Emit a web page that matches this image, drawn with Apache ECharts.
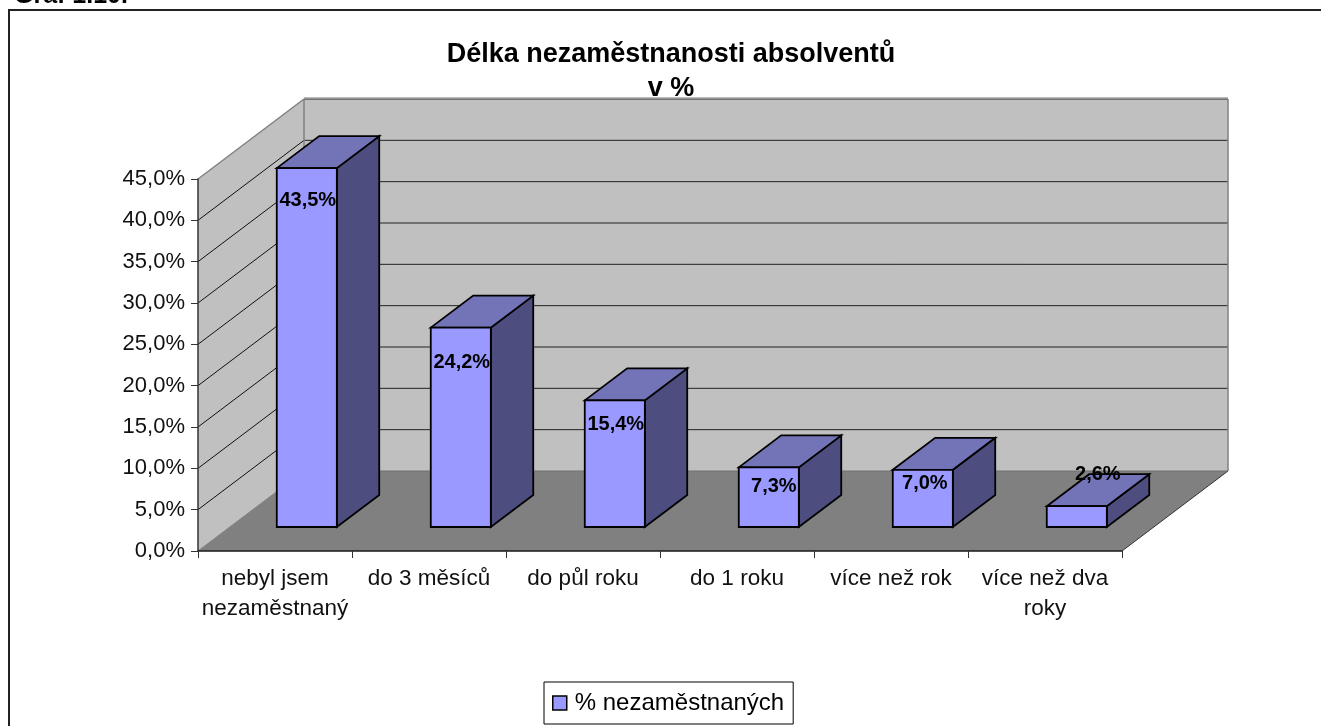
<!DOCTYPE html>
<html>
<head>
<meta charset="utf-8">
<script src="https://cdn.jsdelivr.net/npm/echarts@6/dist/echarts.min.js"></script>
<style>html,body{margin:0;padding:0;background:#fff}#c{width:1321px;height:726px}</style>
</head>
<body>
<div id="c"></div>
<script>
const categories = ['nebyl jsem\nnezaměstnaný', 'do 3 měsíců', 'do půl roku', 'do 1 roku', 'více než rok', 'více než dva\nroky'];
const seriesName = '% nezaměstnaných';
const values = [43.5, 24.2, 15.4, 7.3, 7.0, 2.6];
const yTicks = [0, 5, 10, 15, 20, 25, 30, 35, 40, 45];
const chartTitle = 'Délka nezaměstnanosti absolventů\nv %';
const headerText = 'Graf 1.10.';

const FONT = '"Liberation Sans", Arial, sans-serif';
const fmt = v => v.toFixed(1).replace('.', ',') + '%';

// Oblique projection of the 3D box: depth vector of the whole floor, in pixels
const DEPTH = [106, -80];
const NEAR = 0.3, FAR = 0.7, BAR_W = 0.39;
const labelNudge = [[1, 32], [1, 35], [1, 24], [5, 19], [2, 14], [21, -32]];

function poly(points, fill, stroke, lw) {
  return { type: 'polygon', shape: { points }, style: { fill, stroke: stroke || 'none', lineWidth: lw || 0 } };
}
function seg(a, b, stroke, lw) {
  return { type: 'line', shape: { x1: a[0], y1: a[1], x2: b[0], y2: b[1] }, style: { stroke, lineWidth: lw || 1 } };
}

function renderScene(params, api) {
  const g = params.coordSys;
  const L = g.x, R = g.x + g.width, B = g.y + g.height, T = g.y;
  const dx = DEPTH[0], dy = DEPTH[1];
  const edge = '#808080';
  const children = [
    poly([[L, B], [L, T], [L + dx, T + dy], [L + dx, B + dy]], '#c0c0c0'),
    poly([[L + dx, B + dy], [L + dx, T + dy], [R + dx, T + dy], [R + dx, B + dy]], '#c0c0c0'),
    poly([[L, B], [L + dx, B + dy], [R + dx, B + dy], [R, B]], '#808080')
  ];
  yTicks.forEach(t => {
    if (t === 0) return;
    const y = api.coord([0, t])[1];
    children.push(seg([L, y], [L + dx, y + dy], t === 45 ? edge : '#111', t === 45 ? 1.5 : 1));
    children.push(seg([L + dx, y + dy], [R + dx, y + dy], t === 45 ? '#555' : '#222', t === 45 ? 1.5 : 1));
  });
  children.push(seg([L + dx, T + dy], [L + dx, B + dy], edge, 1.5));
  children.push(seg([R + dx, T + dy], [R + dx, B + dy], edge, 1.5));
  children.push(seg([L + dx, T + dy - 1], [R + dx, T + dy - 1], '#a0a0a0', 1.5));
  children.push(seg([L, B], [L + dx, B + dy], edge, 1));
  children.push(seg([R, B], [R + dx, B + dy], '#333', 1));
  children.push(seg([L + dx, B + dy], [R + dx, B + dy], '#707070', 1));
  return { type: 'group', children };
}

function renderBar(params, api) {
  const i = api.value(0), v = api.value(1);
  const band = api.size([1, 0])[0];
  const c0 = api.coord([i, 0]), c1 = api.coord([i, v]);
  const w = band * BAR_W;
  const nx = DEPTH[0] * NEAR, ny = DEPTH[1] * NEAR;
  const ox = DEPTH[0] * (FAR - NEAR), oy = DEPTH[1] * (FAR - NEAR);
  const x0 = c0[0] - w / 2 + nx, x1 = x0 + w;
  const yb = c0[1] + ny, yt = c1[1] + ny + 0.7;
  const nudge = labelNudge[params.dataIndex];
  const line = '#000';
  return {
    type: 'group',
    children: [
      poly([[x1, yb], [x1, yt], [x1 + ox, yt + oy], [x1 + ox, yb + oy]], '#4d4d80', line, 1.8),
      poly([[x0, yt], [x0 + ox, yt + oy], [x1 + ox, yt + oy], [x1, yt]], '#7373b8', line, 1.8),
      poly([[x0, yb], [x0, yt], [x1, yt], [x1, yb]], '#9999ff', line, 1.8),
      {
        type: 'text',
        style: {
          text: fmt(v), x: (x0 + x1) / 2 + nudge[0], y: yt + nudge[1],
          align: 'center', verticalAlign: 'middle',
          font: 'bold 20px ' + FONT, fill: '#000'
        }
      }
    ]
  };
}

const chart = echarts.init(document.getElementById('c'), null, { renderer: 'canvas' });
chart.setOption({
  animation: false,
  backgroundColor: '#fff',
  title: {
    text: chartTitle, left: 671, top: 38, padding: 0, textAlign: 'center',
    textStyle: { fontFamily: FONT, fontWeight: 'bold', fontSize: 27, lineHeight: 34, color: '#000' }
  },
  graphic: [
    { type: 'polyline', z: 0, shape: { points: [[9, 740], [9, 10], [1340, 10]] }, style: { stroke: '#222', lineWidth: 2, fill: 'none' } },
    { type: 'text', z: 10, style: { text: headerText, x: 14, y: 9, verticalAlign: 'bottom', font: 'bold 25px ' + FONT, fill: '#000' } }
  ],
  legend: {
    data: [{ name: seriesName, icon: 'rect', itemStyle: { color: '#9999ff', borderColor: '#000', borderWidth: 1.5 } }],
    left: 544, top: 682, padding: [9, 9, 9, 8],
    borderColor: '#000', borderWidth: 1,
    itemWidth: 14, itemHeight: 14, itemGap: 4,
    textStyle: { fontFamily: FONT, fontSize: 24, color: '#000', padding: [0, 0, 0, 3] }
  },
  grid: { left: 198, right: 199, top: 179, bottom: 175, containLabel: false },
  xAxis: {
    type: 'category', data: categories, z: 5,
    axisTick: { show: true, alignWithLabel: false, length: 7, lineStyle: { color: '#333', width: 1 } },
    axisLine: { show: true, lineStyle: { color: '#1a1a1a', width: 1.5 } },
    axisLabel: { interval: 0, margin: 13, fontFamily: FONT, fontSize: 22.5, lineHeight: 30, color: '#111' }
  },
  yAxis: {
    type: 'value', min: 0, max: 45, interval: 5, z: 5,
    splitLine: { show: false },
    axisTick: { show: true, length: 7, lineStyle: { color: '#333', width: 1 } },
    axisLine: { show: true, lineStyle: { color: '#333', width: 1.5 } },
    axisLabel: { margin: 13, fontFamily: FONT, fontSize: 22, color: '#111', formatter: fmt }
  },
  series: [
    { name: 'scene', type: 'custom', coordinateSystem: 'cartesian2d', silent: true, z: 1, clip: false, data: [[0, 0]], encode: { x: 0, y: 1 }, renderItem: renderScene },
    {
      name: seriesName, type: 'custom', coordinateSystem: 'cartesian2d', z: 2, clip: false,
      itemStyle: { color: '#9999ff' },
      data: values.map((v, i) => [i, v]), encode: { x: 0, y: 1 },
      renderItem: renderBar
    }
  ]
});
</script>
</body>
</html>
